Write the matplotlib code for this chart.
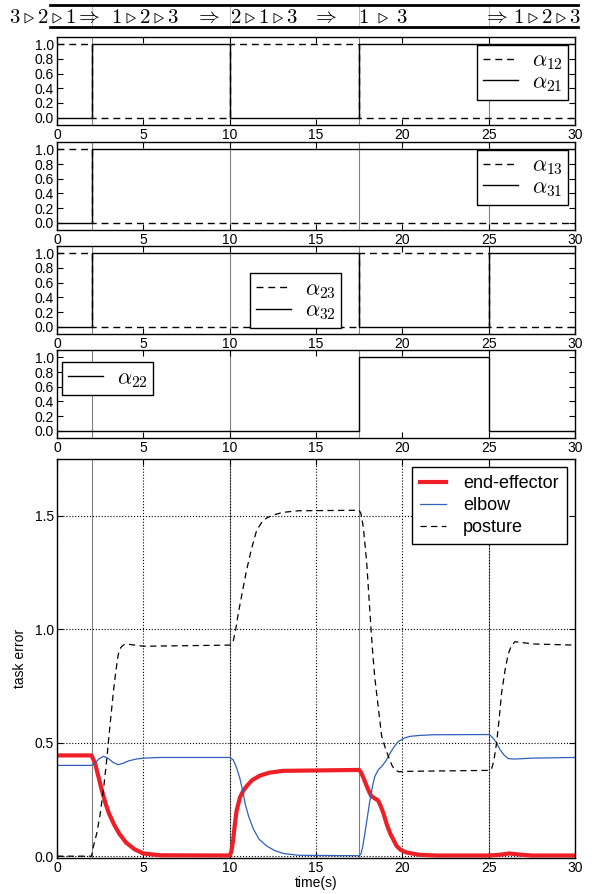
import numpy as np
import matplotlib
matplotlib.use('Agg')
import matplotlib.pyplot as plt

plt.rcParams['font.family'] = ['Liberation Sans', 'DejaVu Sans']
plt.rcParams['mathtext.fontset'] = 'cm'

# switching instants (s)
switch_times = [2.0, 10.0, 17.5, 25.0]

# header: priority orders between switches
header_labels = [r'$3\triangleright2\triangleright1$', r'$\Rightarrow$',
                 r'$1\triangleright2\triangleright3$', r'$\Rightarrow$',
                 r'$2\triangleright1\triangleright3$', r'$\Rightarrow$',
                 r'$1\;\triangleright\;3$', r'$\Rightarrow$',
                 r'$1\triangleright2\triangleright3$']
header_x = [-0.85, 1.8, 5.1, 8.7, 12.0, 15.5, 18.9, 25.4, 28.4]

# activation steps (breakpoints, values)
step_t = [0, 2.0, 10.0, 17.5, 25.0, 30]
a12 = [1, 0, 1, 0, 0, 0]
a21 = [0, 1, 0, 1, 1, 1]
a13 = [1, 0, 0, 0, 0, 0]
a31 = [0, 1, 1, 1, 1, 1]
a23 = [1, 0, 0, 1, 0, 0]
a32 = [0, 1, 1, 0, 1, 1]
a22 = [0, 0, 0, 1, 0, 0]

# task errors
ee_t = [0, 2.0, 2.2, 2.4, 2.6, 2.8, 3.0, 3.3, 3.6, 4.0, 4.5, 5.0, 6.0, 10.0,
        10.1, 10.2, 10.3, 10.4, 10.6, 10.8, 11.0, 11.3, 11.75, 12.3, 13.1, 17.5,
        17.6, 17.75, 17.93, 18.1, 18.2, 18.4, 18.6, 18.75, 18.9, 19.1, 19.3,
        19.5, 19.67, 19.9, 20.25, 21.0, 22.0, 25.0, 25.6, 26.2, 26.8, 27.5, 30]
ee = [0.444, 0.444, 0.41, 0.35, 0.29, 0.235, 0.19, 0.14, 0.10, 0.06, 0.03, 0.012,
      0.004, 0.003, 0.02, 0.07, 0.14, 0.20, 0.26, 0.29, 0.31, 0.335, 0.355, 0.368,
      0.376, 0.38, 0.37, 0.345, 0.31, 0.28, 0.265, 0.255, 0.245, 0.22, 0.19, 0.14,
      0.10, 0.07, 0.045, 0.028, 0.016, 0.006, 0.003, 0.003, 0.006, 0.012, 0.007,
      0.003, 0.003]

elbow_t = [0, 2.0, 2.2, 2.45, 2.7, 2.95, 3.25, 3.55, 3.85, 4.15, 4.6, 5.0, 6.0,
           10.0, 10.2, 10.4, 10.6, 10.75, 10.9, 11.1, 11.37, 11.7, 12.14, 12.6,
           13.1, 14.0, 17.5, 17.6, 17.7, 17.84, 17.97, 18.1, 18.25, 18.4, 18.6,
           18.8, 19.05, 19.3, 19.55, 19.76, 20.1, 20.44, 21.0, 21.8, 25.0, 25.1,
           25.26, 25.45, 25.65, 25.9, 26.13, 26.5, 27.5, 30]
elbow = [0.40, 0.40, 0.41, 0.43, 0.44, 0.432, 0.413, 0.403, 0.41, 0.42, 0.428,
         0.432, 0.435, 0.435, 0.425, 0.39, 0.34, 0.29, 0.23, 0.175, 0.12, 0.075,
         0.045, 0.025, 0.012, 0.004, 0.002, 0.01, 0.04, 0.105, 0.17, 0.235, 0.30,
         0.35, 0.38, 0.395, 0.42, 0.455, 0.485, 0.505, 0.52, 0.528, 0.532, 0.535,
         0.536, 0.532, 0.52, 0.50, 0.47, 0.445, 0.43, 0.428, 0.432, 0.435]

posture_t = [0, 2.0, 2.1, 2.3, 2.49, 2.7, 2.88, 3.06, 3.26, 3.4, 3.55, 3.7,
             3.84, 4.0, 5.0, 10.0, 10.1, 10.2, 10.35, 10.5, 10.75, 10.98, 11.25,
             11.56, 11.85, 12.14, 12.6, 13.1, 14.0, 17.4, 17.5, 17.6, 17.74,
             17.93, 18.12, 18.25, 18.4, 18.6, 18.8, 19.0, 19.19, 19.4, 19.57,
             19.8, 20.5, 25.0, 25.17, 25.3, 25.46, 25.6, 25.75, 25.95, 26.13,
             26.3, 26.52, 27.6, 30]
posture = [0.0, 0.0, 0.04, 0.10, 0.18, 0.30, 0.425, 0.57, 0.72, 0.81, 0.89,
           0.92, 0.93, 0.935, 0.925, 0.93, 0.935, 0.945, 1.0, 1.07, 1.17, 1.26,
           1.35, 1.435, 1.47, 1.49, 1.505, 1.515, 1.522, 1.524, 1.524, 1.51, 1.45,
           1.30, 1.08, 0.93, 0.79, 0.66, 0.53, 0.48, 0.44, 0.40, 0.38, 0.372,
           0.374, 0.378, 0.385, 0.42, 0.50, 0.60, 0.72, 0.82, 0.89, 0.925, 0.945,
           0.935, 0.93]


fig = plt.figure(figsize=(5.92, 8.94), dpi=100)
L, R = 57 / 592, 575 / 592
W = R - L
H = 894.0
DASH = (0, (5, 3.5))


def box(top_px, bot_px):
    return [L, 1 - bot_px / H, W, (bot_px - top_px) / H]


def style(ax):
    ax.set_xlim(0, 30)
    ax.set_xticks(range(0, 31, 5))
    ax.tick_params(direction='in', top=True, right=True, length=4,
                   width=0.8, labelsize=10, pad=2, colors='black')
    for s in ax.spines.values():
        s.set_linewidth(1.0)
    for ts in switch_times:
        ax.axvline(ts, color='gray', lw=0.8, zorder=0)


# header bar
hx0 = (50 - 57) / (518 / 30.0)
hx1 = (578 - 57) / (518 / 30.0)
hax = fig.add_axes([50 / 592, 1 - 27 / H, 528 / 592, 22 / H])
hax.set_xlim(hx0, hx1)
hax.set_ylim(0, 1)
hax.set_xticks([])
hax.set_yticks([])
hax.spines['left'].set_visible(False)
hax.spines['right'].set_visible(False)
hax.spines['top'].set_linewidth(2)
hax.spines['bottom'].set_linewidth(2)
for ts in switch_times:
    hax.axvline(ts, color='#bbbbbb', lw=0.8)
for x, s in zip(header_x, header_labels):
    hax.text(x, 0.45, s, ha='center', va='center', fontsize=15, clip_on=False)

panels = [
    ((37, 125), [(a12, DASH, r'$\alpha_{12}$'), (a21, '-', r'$\alpha_{21}$')],
     dict(loc='upper right', bbox_to_anchor=(0.987, 0.91))),
    ((142, 230), [(a13, DASH, r'$\alpha_{13}$'), (a31, '-', r'$\alpha_{31}$')],
     dict(loc='upper right', bbox_to_anchor=(0.987, 0.91))),
    ((246, 334), [(a23, DASH, r'$\alpha_{23}$'), (a32, '-', r'$\alpha_{32}$')],
     dict(loc='lower left', bbox_to_anchor=(0.373, 0.07))),
    ((350, 438), [(a22, '-', r'$\alpha_{22}$')],
     dict(loc='upper left', bbox_to_anchor=(0.01, 0.86))),
]

for (tp, bp), series, lkw in panels:
    ax = fig.add_axes(box(tp, bp))
    style(ax)
    for vals, ls, lab in series:
        ax.step(step_t, vals, where='post', color='black', ls=ls, lw=1.0,
                label=lab)
    ax.set_ylim(-0.1, 1.1)
    ax.set_yticks([0, 0.2, 0.4, 0.6, 0.8, 1.0])
    ax.set_yticklabels(['0.0', '0.2', '0.4', '0.6', '0.8', '1.0'])
    leg = ax.legend(fontsize=16, fancybox=False, framealpha=1, edgecolor='black',
                    handlelength=1.6, borderpad=0.25, labelspacing=0.0,
                    handletextpad=0.6, borderaxespad=0, **lkw)
    leg.get_frame().set_linewidth(1.0)

# main task-error plot
ax = fig.add_axes(box(459, 858))
style(ax)
ax.plot(ee_t, ee, color='#ee1f26', lw=3, label='end-effector')
ax.plot(elbow_t, elbow, color='#2f5fbf', lw=0.9, label='elbow')
ax.plot(posture_t, posture, color='black', ls=DASH, lw=0.9,
        label='posture')
ax.set_ylim(-0.008, 1.75)
ax.set_yticks([0, 0.5, 1.0, 1.5])
ax.set_yticklabels(['0.0', '0.5', '1.0', '1.5'])
ax.grid(True, color='black', ls=':', lw=0.8)
ax.set_axisbelow(True)
ax.set_xlabel('time(s)', fontsize=10, labelpad=1)
ax.set_ylabel('task error', fontsize=10, labelpad=6)
leg = ax.legend(loc='upper right', fontsize=13, fancybox=False, framealpha=1,
                edgecolor='black', handlelength=1.45, handletextpad=0.95,
                borderpad=0.45, labelspacing=0.28, borderaxespad=0.45)
leg.get_frame().set_linewidth(1.0)

fig.savefig('out.png', dpi=100)
